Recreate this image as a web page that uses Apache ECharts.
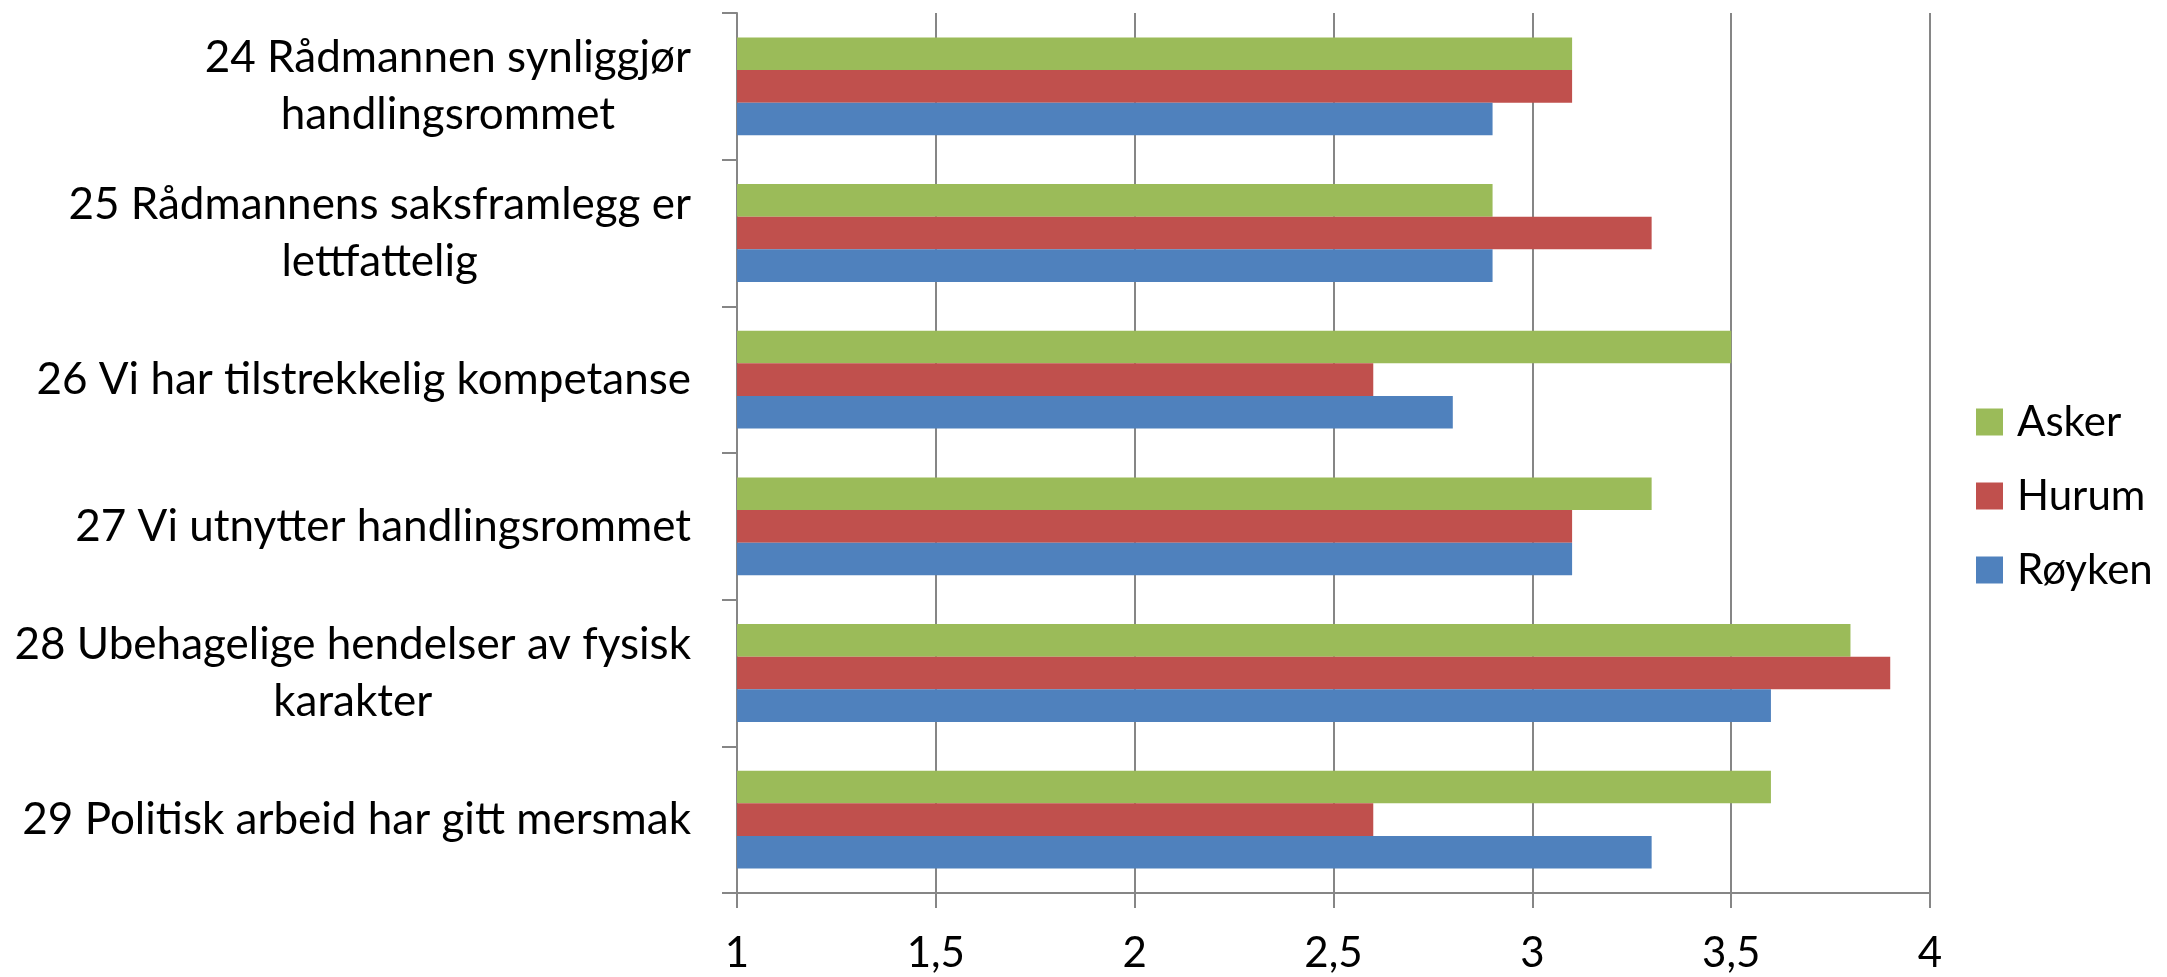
<!DOCTYPE html>
<html>
<head>
<meta charset="utf-8" />
<title>Rådmann og handlingsrom</title>
<script src="https://cdn.jsdelivr.net/npm/echarts@6/dist/echarts.min.js"></script>
<style>
  html, body { margin: 0; padding: 0; background: #fff; }
  #chart { width: 2167px; height: 977px; }
</style>
</head>
<body>
<div id="chart"></div>
<script>
// kategorier (ovenfra og ned)
var categories = [
  "24 Rådmannen synliggjør\nhandlingsrommet",
  "25 Rådmannens saksframlegg er\nlettfattelig",
  "26 Vi har tilstrekkelig kompetanse",
  "27 Vi utnytter handlingsrommet",
  "28 Ubehagelige hendelser av fysisk\nkarakter",
  "29 Politisk arbeid har gitt mersmak"
];
// serier
var seriesNames = ["Asker", "Hurum", "Røyken"];
var asker = [3.1, 2.9, 3.5, 3.3, 3.8, 3.6];
var hurum = [3.1, 3.3, 2.6, 3.1, 3.9, 2.6];
var royken = [2.9, 2.9, 2.8, 3.1, 3.6, 3.3];
// verdiakse
var axisMin = 1;
var axisMax = 4;
var axisStep = 0.5;

var colors = ["#9BBB59", "#C0504D", "#4F81BD"];
var font = "Lato";

var myChart = echarts.init(document.getElementById("chart"));
var option;

function makeSeries(name, data, idx) {
  return {
    name: name,
    type: "bar",
    data: data,
    barGap: "0%",
    barCategoryGap: "33.3%",
    itemStyle: { color: colors[idx] },
    animation: false
  };
}

option = {
  animation: false,
  textStyle: { fontFamily: font },
  grid: {
    left: 737,
    right: 237,
    top: 13,
    bottom: 84,
    containLabel: false
  },
  legend: {
    orient: "vertical",
    left: 1976,
    top: 400,
    padding: 0,
    itemWidth: 27,
    itemHeight: 27,
    itemGap: 30,
    icon: "rect",
    textStyle: {
      fontFamily: font,
      fontSize: 42,
      lineHeight: 44,
      color: "#000",
      padding: [0, 0, 0, 9]
    },
    data: seriesNames
  },
  xAxis: {
    type: "value",
    min: axisMin,
    max: axisMax,
    interval: axisStep,
    axisLine: { show: true, lineStyle: { color: "#868686", width: 2 } },
    axisTick: { show: true, length: 15, lineStyle: { color: "#868686", width: 2 } },
    splitLine: { show: true, lineStyle: { color: "#868686", width: 2 } },
    axisLabel: {
      margin: 39,
      fontFamily: font,
      fontSize: 42,
      color: "#000",
      formatter: function (v) {
        return String(v).replace(".", ",");
      }
    }
  },
  yAxis: {
    type: "category",
    inverse: true,
    data: categories,
    axisLine: { show: true, lineStyle: { color: "#868686", width: 2 } },
    axisTick: { show: true, length: 15, lineStyle: { color: "#868686", width: 2 } },
    splitLine: { show: false },
    axisLabel: {
      margin: 46,
      fontFamily: font,
      fontSize: 44,
      lineHeight: 57,
      color: "#000",
      align: "right",
      formatter: function (v) {
        return v.split("\n").map(function (s) { return "{c|" + s + "}"; }).join("\n");
      },
      rich: {
        c: { align: "center", fontFamily: font, fontSize: 44, lineHeight: 57, color: "#000" }
      }
    }
  },
  series: [
    makeSeries(seriesNames[0], asker, 0),
    makeSeries(seriesNames[1], hurum, 1),
    makeSeries(seriesNames[2], royken, 2)
  ]
};

option && myChart.setOption(option);
window.addEventListener("resize", function () {
  myChart.resize();
});
</script>
</body>
</html>
